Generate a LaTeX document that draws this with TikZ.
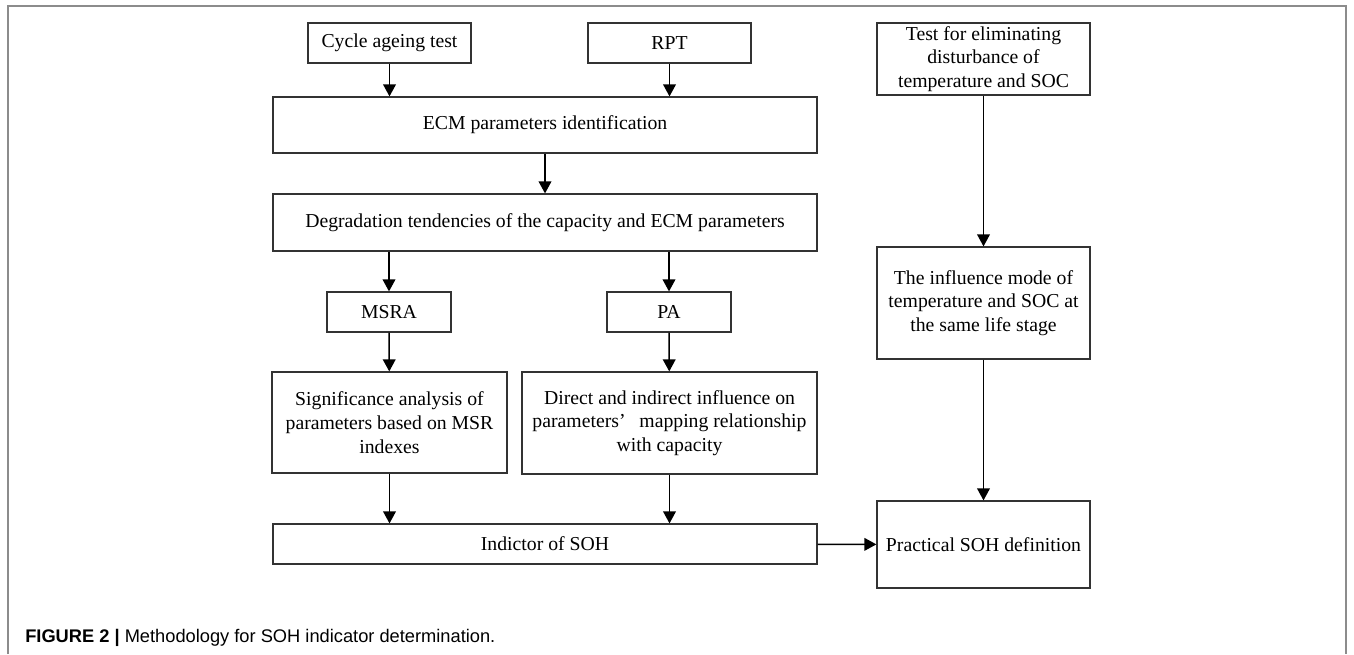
\documentclass[tikz,border=0pt]{standalone}
\usepackage{fontspec}
\setmainfont{Liberation Serif}
\newfontfamily\capfont{Liberation Sans}
\usepackage{tikz}
\usetikzlibrary{arrows.meta}

\begin{document}
\begin{tikzpicture}[x=0.75pt, y=-0.75pt,
		box/.style={draw=black!80, line width=0.9pt, align=center, inner sep=0pt, font=\fontsize{14.8}{17.8}\selectfont},
		arr/.style={-{Triangle[length=9pt,width=9.5pt]}, line width=1.1pt}]
				\useasboundingbox (0,0) rectangle (1354,654);
				
				%Frame
				\draw[black!45, line width=1.1pt] (8,654) -- (8,6) -- (1346,6) -- (1346,654);
				
				%Tests
				\node[box, minimum width=122.25pt, minimum height=30pt] (cycle) at (389.5,43) {Cycle ageing test};
				\node[box, minimum width=122.25pt, minimum height=30pt] (rpt) at (669.5,43) {RPT};
				\node[box, minimum width=159.75pt, minimum height=54pt] (test) at (983.5,59) {Test for eliminating\\disturbance of\\temperature and SOC};
				
				%ECM
				\node[box, minimum width=408pt, minimum height=42pt] (ecm) at (545,125) {ECM parameters identification};
				\node[box, minimum width=408pt, minimum height=42.75pt] (degr) at (545,222.5) {Degradation tendencies of the capacity and ECM parameters};
				
				%Analysis
				\node[box, minimum width=93pt, minimum height=30pt] (msra) at (389,312) {MSRA};
				\node[box, minimum width=93pt, minimum height=30pt] (pa) at (669,312) {PA};
				\node[box, minimum width=176.25pt, minimum height=75.75pt] (sig) at (389.5,422.5) {Significance analysis of\\parameters based on MSR\\indexes};
				\node[box, minimum width=221.25pt, minimum height=76.5pt] (direct) at (669.5,423) {Direct and indirect influence on\\parameters’\hspace{0.7em}mapping relationship\\with capacity};
				\node[box, minimum width=159.75pt, minimum height=84pt] (infl) at (983.5,303) {The influence mode of\\temperature and SOC at\\the same life stage};
				
				%SOH
				\node[box, minimum width=408pt, minimum height=30pt] (ind) at (545,544) {Indictor of SOH};
				\node[box, minimum width=159.75pt, minimum height=65.25pt] (prac) at (983.5,544.5) {Practical SOH definition};
				
				%Lines
				\draw[arr] (cycle) -- (cycle |- ecm.north);
				\draw[arr] (rpt) -- (rpt |- ecm.north);
				\draw[arr] (ecm) -- (degr);
				\draw[arr] (msra |- degr.south) -- (msra);
				\draw[arr] (pa |- degr.south) -- (pa);
				\draw[arr] (msra) -- (sig);
				\draw[arr] (pa) -- (direct);
				\draw[arr] (sig) -- (sig |- ind.north);
				\draw[arr] (direct) -- (direct |- ind.north);
				\draw[arr] (test) -- (infl);
				\draw[arr] (infl) -- (prac);
				\draw[arr] (ind) -- (prac);
				
				%Caption
				\node[anchor=base west, inner sep=0pt, font=\capfont\fontsize{13.7}{16}\selectfont] (caption) at (25,642) {\textbf{FIGURE 2 |} Methodology for SOH indicator determination.};
\end{tikzpicture}
\end{document}
